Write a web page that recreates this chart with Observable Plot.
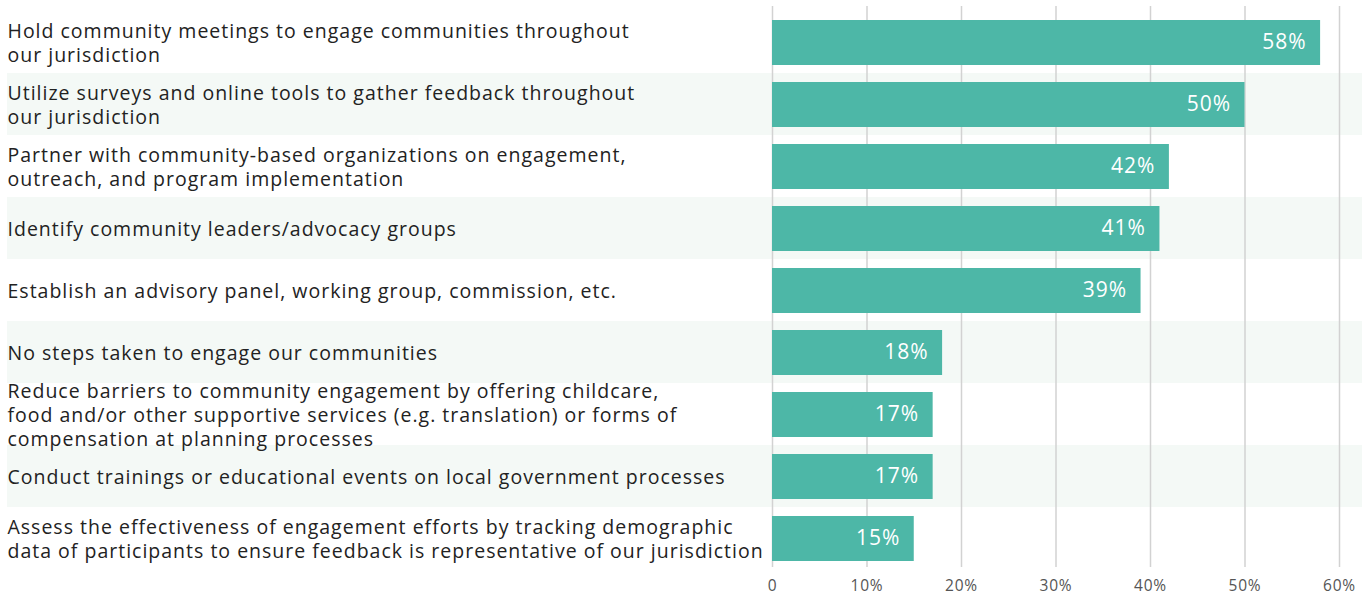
<!DOCTYPE html>
<html>
<head>
<meta charset="utf-8">
<script src="https://cdn.jsdelivr.net/npm/d3@7"></script>
<script src="https://cdn.jsdelivr.net/npm/@observablehq/plot@0.6"></script>
<style>
  html, body { margin: 0; padding: 0; background: #fff; }
  #chart svg { display: block; }
  #chart svg text { letter-spacing: 1px; }
  #chart svg .val text { letter-spacing: 1px; }
  #chart svg [aria-label="x-axis tick label"] text { letter-spacing: 0.8px; }
</style>
</head>
<body>
<div id="chart"></div>
<script>
const categories = [
  "Hold community meetings to engage communities throughout\nour jurisdiction",
  "Utilize surveys and online tools to gather feedback throughout\nour jurisdiction",
  "Partner with community-based organizations on engagement,\noutreach, and program implementation",
  "Identify community leaders/advocacy groups",
  "Establish an advisory panel, working group, commission, etc.",
  "No steps taken to engage our communities",
  "Reduce barriers to community engagement by offering childcare,\nfood and/or other supportive services (e.g. translation) or forms of\ncompensation at planning processes",
  "Conduct trainings or educational events on local government processes",
  "Assess the effectiveness of engagement efforts by tracking demographic\ndata of participants to ensure feedback is representative of our jurisdiction"
];
const values = [58, 50, 42, 41, 39, 18, 17, 17, 15];
const xTicks = [0, 10, 20, 30, 40, 50, 60];

const data = categories.map((c, i) => ({label: c, value: values[i]}));
const FONT = "'Open Sans', sans-serif";

function rowBands(index, scales, values, dims) {
  const g = d3.create("svg:g");
  const y = scales.y;
  const step = y(categories[1]) - y(categories[0]);
  categories.forEach((c, i) => {
    if (i % 2 === 1) {
      g.append("rect")
        .attr("x", 7)
        .attr("width", dims.width - 7 - 9)
        .attr("y", y(c))
        .attr("height", step)
        .attr("fill", "#f4f9f6");
    }
  });
  return g.node();
}

const chart = Plot.plot({
  width: 1371,
  height: 595,
  marginLeft: 772,
  marginRight: 32,
  marginTop: 11,
  marginBottom: 26,
  style: {fontFamily: FONT, background: "#fff"},
  x: {domain: [0, 60], ticks: xTicks, tickFormat: d => d === 0 ? "0" : d + "%", label: null},
  y: {domain: categories, padding: 0, axis: null},
  marks: [
    rowBands,
    Plot.ruleX(xTicks, {stroke: "#d2d2d2", strokeWidth: 1.5, insetTop: -5, insetBottom: 2}),
    Plot.barX(data, {x: "value", y: "label", fill: "#4db7a7", insetTop: 9, insetBottom: 8}),
    Plot.text(data, {x: "value", y: "label", text: d => d.value + "%", textAnchor: "end", dx: -14, fill: "white", fontSize: 21, className: "val"}),
    Plot.text(data, {y: "label", text: "label", frameAnchor: "left", textAnchor: "start", dx: -765, fontSize: 19.5, lineHeight: 1.23, fill: "#222222", className: "lbl"}),
    Plot.axisX({ticks: xTicks, tickFormat: d => d === 0 ? "0" : d + "%", tickSize: 0, tickPadding: 10, fontSize: 15.5, color: "#555", label: null})
  ]
});
document.getElementById("chart").appendChild(chart);
</script>
</body>
</html>
